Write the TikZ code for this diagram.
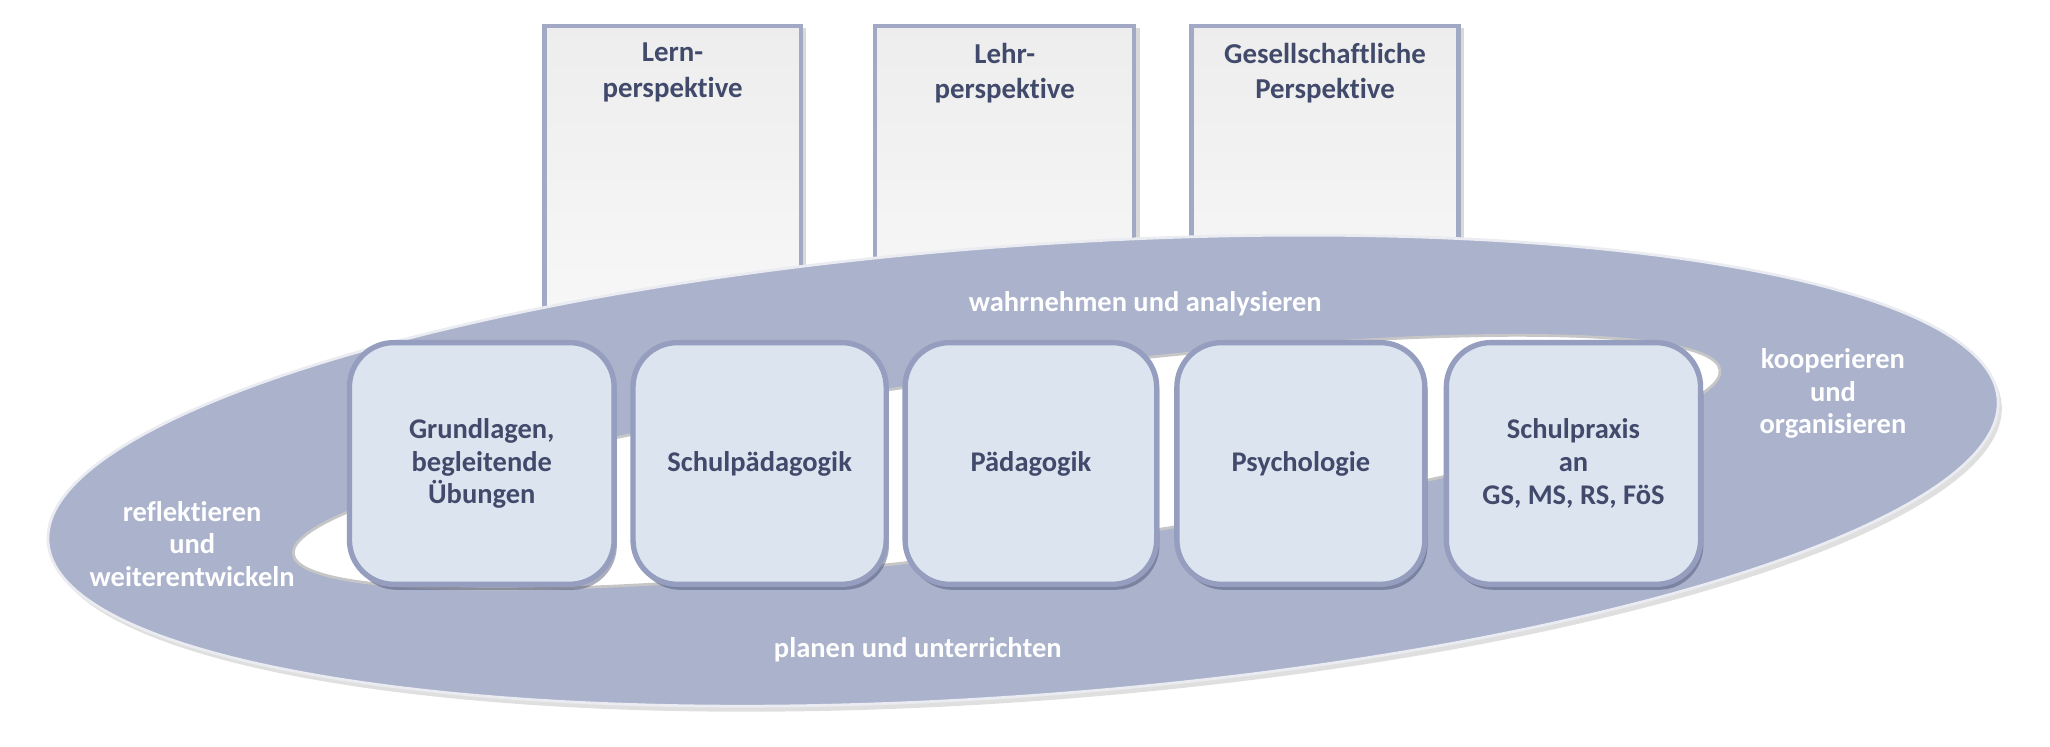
\documentclass[tikz,border=0pt]{standalone}
\usepackage{fontspec}
\setmainfont{Carlito}[RawFeature=-liga]
\usetikzlibrary{positioning,shadows}
\definecolor{ring}{HTML}{AAB2CC}
\definecolor{tile}{HTML}{DCE4EF}
\definecolor{tileline}{HTML}{959EBF}
\definecolor{ink}{HTML}{414A6B}
\definecolor{frame}{HTML}{A2A9C5}

\begin{document}
\begin{tikzpicture}[x=0.025cm, y=-0.025cm,
    font=\fontsize{15.5}{17.8}\selectfont\bfseries,
    tile/.style={draw=tileline, line width=2.9pt, fill=tile, rounded corners=0.85cm,
      minimum height=4.62cm, text=ink, align=center,
      drop shadow={shadow xshift=1.5pt, shadow yshift=-3pt, opacity=0.45, fill=ink}},
    persp/.style={draw=frame, line width=2.4pt, top color=gray!14, bottom color=gray!3,
      anchor=north, minimum height=7.8cm,
      drop shadow={shadow xshift=3pt, shadow yshift=-1pt, opacity=0.3}},
    ptext/.style={text=ink, align=center, font=\fontsize{15.7}{19.3}\selectfont\bfseries},
    verb/.style={text=white, align=center}]
  \useasboundingbox (0,0) rectangle (1568,571);
  \foreach \x/\w/\t [count=\i] in {514.5/4.9/{Lern-\\perspektive}, 768.5/4.95/{Lehr-\\perspektive},
      1013.5/5.1/{Gesellschaftliche\\Perspektive}} {
    \node[persp, minimum width=\w cm] (p\i) at (\x,18) {};
    \node[ptext, below=0.25cm of p\i.north] (pt\i) {\t};
  }
  \draw[fill=ring, draw=white!75!ring, line width=1.5pt, rotate around={4.2:(782.5,360)},
    drop shadow={opacity=0.25, shadow xshift=2pt, shadow yshift=-3pt}]
    (782.5,360) ellipse [x radius=18.69cm, y radius=4.3cm];
  \draw[fill=white, draw=gray!45, line width=1.5pt, rotate around={7.36:(770,353.5)}]
    (770,353.5) ellipse [x radius=13.75cm, y radius=1.68cm];
  \foreach \x/\w/\t [count=\i] in {368.5/5.06/{Grundlagen,\\begleitende\\Übungen},
      581/4.84/{Schulpädagogik}, 788.5/4.81/{Pädagogik}, 995/4.74/{Psychologie},
      1203.5/4.86/{Schulpraxis\\an\\GS, MS, RS, FöS}} {
    \node[tile, minimum width=\w cm] (b\i) at (\x,354.5) {\t};
  }
  \node[verb] (wa) at (876,232) {wahrnehmen und analysieren};
  \node[verb] (pu) at (702,497) {planen und unterrichten};
  \node[verb] (rw) at (147,416) {reflektieren\\und\\weiterentwickeln};
  \node[verb] (ko) at (1402,301) {kooperieren\\und\\organisieren};
\end{tikzpicture}
\end{document}
